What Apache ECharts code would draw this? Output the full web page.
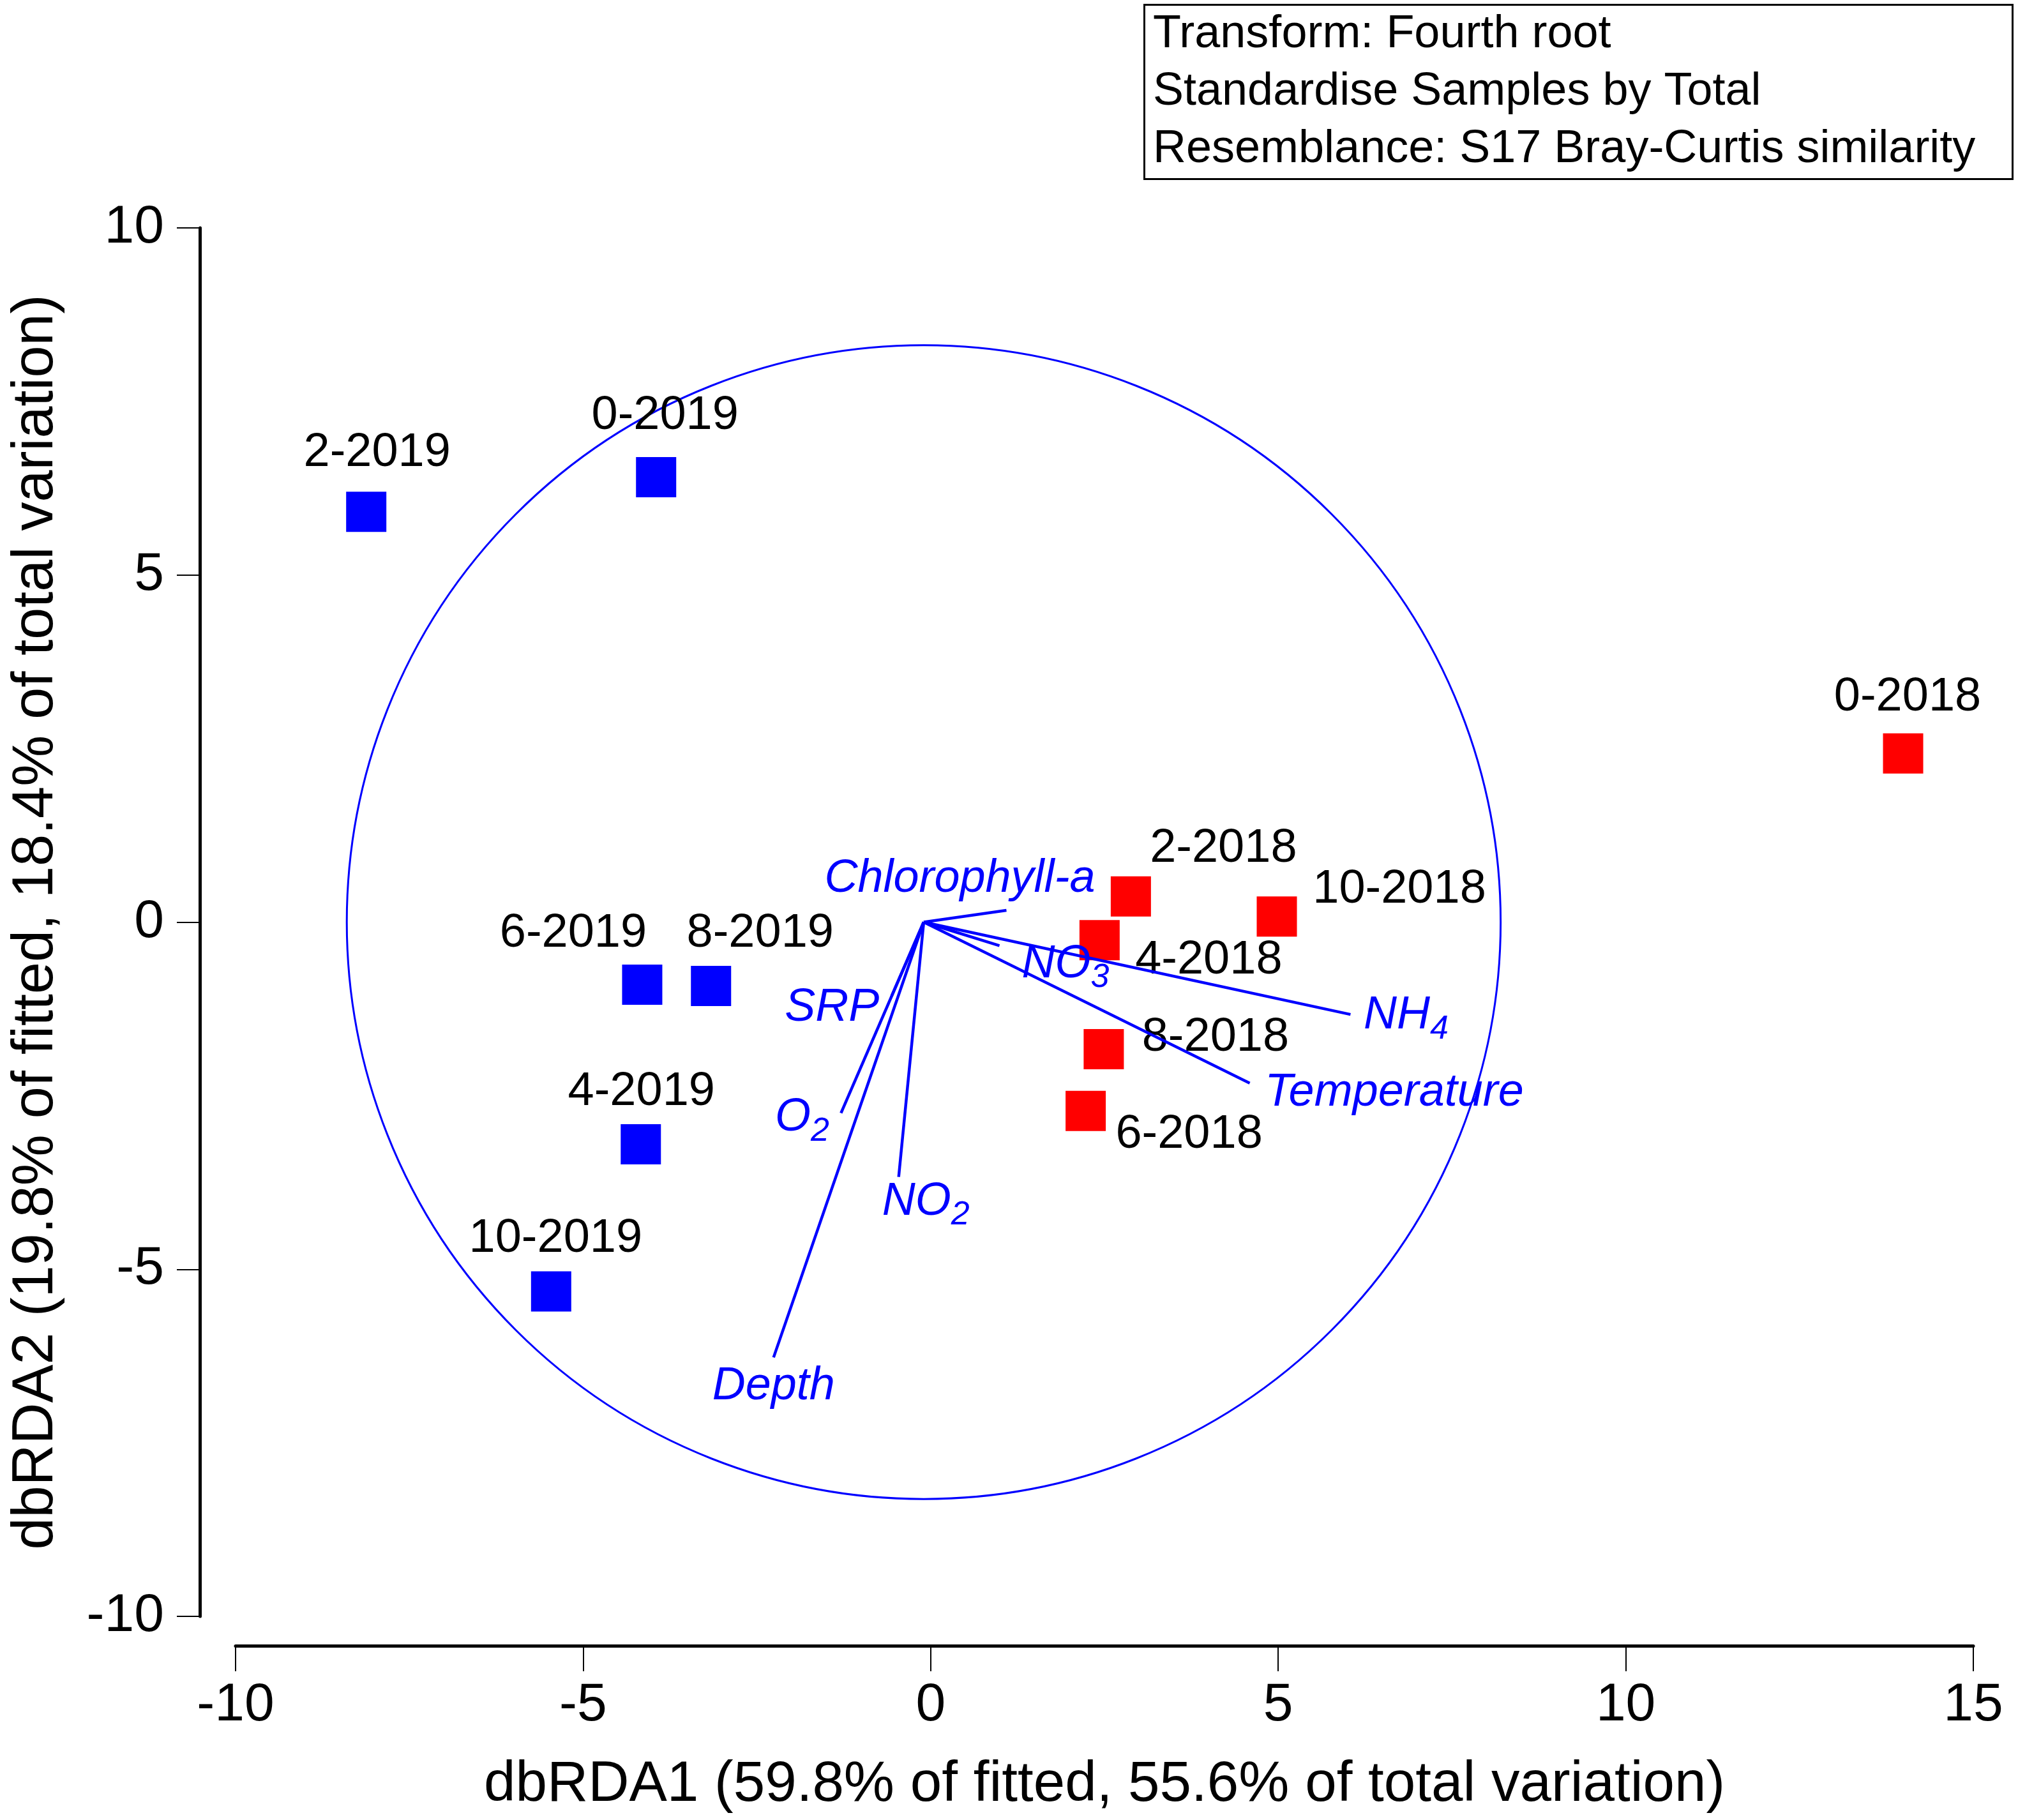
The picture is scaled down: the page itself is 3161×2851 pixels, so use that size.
<!DOCTYPE html>
<html>
<head>
<meta charset="utf-8">
<script src="https://cdn.jsdelivr.net/npm/echarts/dist/echarts.min.js"></script>
<style>
html,body{margin:0;padding:0;background:#fff}
#chart{width:3161px;height:2851px}
</style>
</head>
<body>
<div id="chart"></div>
<script>
// samples (dbRDA1, dbRDA2)
var names2019 = ['2-2019', '0-2019', '6-2019', '8-2019', '4-2019', '10-2019'];
var x2019 = [-8.12, -3.95, -4.15, -3.16, -4.17, -5.46];
var y2019 = [5.91, 6.41, -0.90, -0.92, -3.20, -5.32];

var names2018 = ['0-2018', '2-2018', '10-2018', '4-2018', '8-2018', '6-2018'];
var x2018 = [13.99, 2.88, 4.98, 2.43, 2.49, 2.23];
var y2018 = [2.43, 0.37, 0.08, -0.26, -1.83, -2.72];

// environmental vectors
var vectorNames = ['Chlorophyll-a', 'NO3', 'NH4', 'Temperature', 'SRP', 'O2', 'NO2', 'Depth'];
var vectorX = [1.09, 0.99, 6.04, 4.59, -0.56, -1.29, -0.46, -2.26];
var vectorY = [0.17, -0.34, -1.33, -2.32, -1.06, -2.75, -3.67, -6.27];
var vectorOrigin = [-0.1, 0];
var circleRadius = 8.3;

// where the vector names sit (data units)
var vectorLabelX = [0.42, 1.94, 6.84, 6.67, -1.42, -1.85, -0.07, -2.26];
var vectorLabelY = [0.62, -0.61, -1.35, -2.46, -1.24, -2.82, -4.03, -6.69];

var xTicks = [-10, -5, 0, 5, 10, 15];
var yTicks = [-10, -5, 0, 5, 10];

// label offsets in px, so names don't sit on the squares
var off2019 = [[17, -92], [14, -96], [-108, -80], [77, -82], [1, -82], [7, -82]];
var off2018 = [[7, -88], [145, -75], [192, -42], [171, 32], [175, -18], [162, 37]];

var FONT = '"Liberation Sans", Arial, sans-serif';
var BLUE = '#0000ff';

function pts(names, xs, ys, offs) {
	return names.map(function (n, i) {
		return {
			name: n,
			value: [xs[i], ys[i]],
			label: { offset: offs[i] }
		};
	});
}

var chart = echarts.init(document.getElementById('chart'));

var sampleLabel = {
	show: true,
	position: 'inside',
	formatter: '{b}',
	color: '#000',
	fontSize: 74,
	fontFamily: FONT
};

var option = {
	animation: false,
	backgroundColor: '#fff',
	title: {
		text: 'Transform: Fourth root\nStandardise Samples by Total\nResemblance: S17 Bray-Curtis similarity',
		left: 1792,
		top: 7,
		padding: [2, 58, 2, 14],
		borderColor: '#000',
		borderWidth: 3,
		textStyle: {
			fontSize: 72,
			lineHeight: 90,
			fontWeight: 'normal',
			color: '#000',
			fontFamily: FONT
		}
	},
	grid: { left: 369, right: 70, top: 357, bottom: 319, containLabel: false },
	xAxis: {
		type: 'value',
		min: xTicks[0],
		max: xTicks[xTicks.length - 1],
		interval: 5,
		offset: 46,
		name: 'dbRDA1 (59.8% of fitted, 55.6% of total variation)',
		nameLocation: 'middle',
		nameGap: 174,
		nameTextStyle: { fontSize: 89, color: '#000', fontFamily: FONT },
		axisLine: { show: true, onZero: false, lineStyle: { color: '#000', width: 5 } },
		axisTick: { show: true, length: 40, lineStyle: { color: '#000', width: 2 } },
		axisLabel: { fontSize: 84, color: '#000', margin: 52, fontFamily: FONT },
		splitLine: { show: false }
	},
	yAxis: {
		type: 'value',
		min: yTicks[0],
		max: yTicks[yTicks.length - 1],
		interval: 5,
		offset: 56,
		name: 'dbRDA2 (19.8% of fitted, 18.4% of total variation)',
		nameLocation: 'middle',
		nameGap: 211,
		nameRotate: 90,
		nameTextStyle: { fontSize: 90, color: '#000', fontFamily: FONT },
		axisLine: { show: true, onZero: false, lineStyle: { color: '#000', width: 5 } },
		axisTick: { show: true, length: 36, lineStyle: { color: '#000', width: 2 } },
		axisLabel: { fontSize: 84, color: '#000', margin: 56, fontFamily: FONT },
		splitLine: { show: false }
	},
	series: [
		{
			// correlation circle
			type: 'custom',
			silent: true,
			z: 1,
			data: [[vectorOrigin[0], vectorOrigin[1], circleRadius]],
			renderItem: function (params, api) {
				var c = api.coord([api.value(0), api.value(1)]);
				var r = api.size([api.value(2), 0])[0];
				return {
					type: 'circle',
					shape: { cx: c[0], cy: c[1], r: r },
					style: { fill: 'none', stroke: BLUE, lineWidth: 3 }
				};
			}
		},
		{
			name: '2019',
			type: 'scatter',
			symbol: 'rect',
			symbolSize: 63,
			z: 3,
			itemStyle: { color: BLUE, opacity: 1 },
			label: sampleLabel,
			data: pts(names2019, x2019, y2019, off2019)
		},
		{
			name: '2018',
			type: 'scatter',
			symbol: 'rect',
			symbolSize: 63,
			z: 3,
			itemStyle: { color: '#ff0000', opacity: 1 },
			label: sampleLabel,
			data: pts(names2018, x2018, y2018, off2018)
		},
		{
			// vectors
			type: 'custom',
			silent: true,
			z: 5,
			data: vectorX.map(function (x, i) { return [x, vectorY[i]]; }),
			renderItem: function (params, api) {
				var o = api.coord(vectorOrigin);
				var e = api.coord([api.value(0), api.value(1)]);
				return {
					type: 'line',
					shape: { x1: o[0], y1: o[1], x2: e[0], y2: e[1] },
					style: { stroke: BLUE, lineWidth: 4.5 }
				};
			}
		},
		{
			// vector names
			type: 'scatter',
			silent: true,
			z: 6,
			symbolSize: 1,
			itemStyle: { color: 'rgba(0,0,0,0)', opacity: 1 },
			data: vectorNames.map(function (n, i) {
				return { name: n, value: [vectorLabelX[i], vectorLabelY[i]] };
			}),
			label: {
				show: true,
				position: 'inside',
				formatter: function (p) {
					var m = p.name.match(/^(\D+)(\d)$/);
					if (m) return '{m|' + m[1] + '}{s|' + m[2] + '}';
					return '{m|' + p.name + '}';
				},
				rich: {
					m: { fontSize: 72, lineHeight: 74, fontStyle: 'italic', color: BLUE, fontFamily: FONT },
					s: { fontSize: 52, lineHeight: 2, verticalAlign: 'top', padding: [32, 0, 0, 0], fontStyle: 'italic', color: BLUE, fontFamily: FONT }
				}
			}
		}
	]
};

chart.setOption(option);
</script>
</body>
</html>
